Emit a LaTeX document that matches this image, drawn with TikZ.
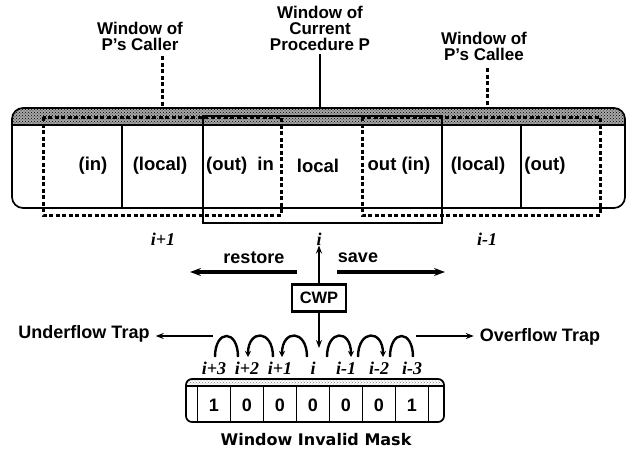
\documentclass[tikz,border=0pt]{standalone}
\usepackage{fontspec}
\setmainfont{Liberation Sans}
\newfontfamily\idxfont{Liberation Serif}
\newfontfamily\heavyfont{DejaVu Sans}
\usetikzlibrary{patterns,arrows.meta}
\begin{document}
\begin{tikzpicture}[x=1pt,y=-1pt,
  lbl/.style={font=\fontsize{17}{16}\selectfont\bfseries, align=center, inner sep=0pt},
  txt/.style={font=\fontsize{18}{18}\selectfont\bfseries, inner sep=0pt},
  cell/.style={font=\fontsize{18.5}{18.5}\selectfont\bfseries, inner sep=0pt},
  idx/.style={font=\fontsize{18}{18}\selectfont\idxfont\bfseries\itshape, inner sep=0pt},
  win/.style={line width=3pt, dash pattern=on 4pt off 2.5pt},
  cur/.style={line width=2.8pt},
  bigarrow/.style={line width=3.2pt, -{Stealth[length=11pt,width=8pt]}},
  thinarrow/.style={line width=1.6pt, -{Stealth[length=8pt,width=6pt]}},
  arcline/.style={line width=2.4pt},
  arcarrow/.style={line width=2.4pt, -{Stealth[length=6pt,width=6pt]}},
  outline/.style={line width=1.7pt}
]
\useasboundingbox (0,0) rectangle (633,453);

% ---- titles ----
\node[lbl] (caller) at (140,36) {Window of\\P's Caller};
\node[lbl] (current) at (320,28) {Window of\\Current\\Procedure P};
\node[lbl] (callee) at (484,46) {Window of\\P's Callee};
\coordinate (cb) at (162,108);
\coordinate (pb) at (320,108);
\coordinate (eb) at (487,108);
\draw[win, shorten <=6pt] (caller.south -| cb) -- (cb);
\draw[cur, line width=2.2pt, shorten <=4pt] (current.south -| pb) -- (pb);
\draw[win, shorten <=8pt] (callee.south -| eb) -- (eb);

% ---- register file bar ----
\begin{scope}
  \clip[rounded corners=11pt] (12,108) rectangle (625,208);
  \fill[black!35] (12,108) rectangle (625,125);
  \fill[pattern=crosshatch dots, pattern color=black] (12,108) rectangle (625,125);
\end{scope}
\draw[outline, rounded corners=11pt] (12,108) rectangle (625,208);
\draw[line width=1.4pt] (12,125) -- (625,125);
\draw[line width=1.4pt] (122,125) -- (122,208);
\draw[line width=1.4pt] (521,125) -- (521,208);

% windows
\draw[win] (43,117) rectangle (281,215);
\draw[win] (362,117) rectangle (600,215);
\draw[cur] (203,116) rectangle (442,223);

% cell texts
\node[cell] (c1) at (93,166) {(in)};
\node[cell] (c2) at (160,166) {(local)};
\node[cell] (c3) at (240,166) {(out)\ \ in};
\node[cell] (c4) at (318,166) {local};
\node[cell] (c5) at (399,166) {out (in)};
\node[cell] (c6) at (478,166) {(local)};
\node[cell] (c7) at (545,166) {(out)};

% ---- window indices ----
\node[idx] (ip1) at (163,239) {i+1};
\node[idx] (i0) at (319,239) {i};
\node[idx] (im1) at (487,239) {i-1};

% ---- CWP and save/restore ----
\node[draw, line width=2.2pt, minimum width=54pt, minimum height=27pt, inner sep=0pt,
      font=\fontsize{16.5}{16.5}\selectfont\bfseries] (cwp) at (319,298) {CWP};
\node[txt] (restore) at (254,258) {restore};
\node[txt] (save) at (358,258) {save};
\coordinate (rr) at (297,272);
\coordinate (rl) at (190,272);
\coordinate (sl) at (337,272);
\coordinate (sr) at (445,272);
\draw[bigarrow] (rr) -- (rl);
\draw[bigarrow] (sl) -- (sr);
\draw[thinarrow] (cwp.north) -- (i0.south);
\coordinate (dn) at (319,348);
\draw[thinarrow] (cwp.south) -- (dn);

% ---- traps ----
\node[txt] (under) at (84,334) {Underflow Trap};
\node[txt] (over) at (540,337) {Overflow Trap};
\coordinate (u1) at (213,336);
\coordinate (o1) at (416,336);
\draw[thinarrow, shorten >=6pt] (u1) -- (u1 -| under.east);
\draw[thinarrow, shorten >=6pt] (o1) -- (o1 -| over.west);

% ---- arcs ----
\coordinate (a1r) at (238,357); \coordinate (a1l) at (215,357);
\coordinate (a2r) at (273,357); \coordinate (a2l) at (248,357);
\coordinate (a3r) at (307,357); \coordinate (a3l) at (282,357);
\coordinate (a4l) at (327,357); \coordinate (a4r) at (351,357);
\coordinate (a5l) at (358,357); \coordinate (a5r) at (383,357);
\coordinate (a6l) at (390,357); \coordinate (a6r) at (413,357);
\draw[arcline] (a1r) .. controls +(0,-28) and +(0,-28) .. (a1l);
\draw[arcarrow] (a2r) .. controls +(0,-28) and +(0,-28) .. (a2l);
\draw[arcarrow] (a3r) .. controls +(0,-28) and +(0,-28) .. (a3l);
\draw[arcarrow] (a4l) .. controls +(0,-28) and +(0,-28) .. (a4r);
\draw[arcarrow] (a5l) .. controls +(0,-28) and +(0,-28) .. (a5r);
\draw[arcline] (a6l) .. controls +(0,-28) and +(0,-28) .. (a6r);

% ---- mask labels ----
\foreach \k/\t in {0/i+3,1/i+2,2/i+1,3/i,4/i-1,5/i-2,6/i-3}
  \node[idx] (ml\k) at (214+33*\k,368) {\t};

% ---- mask ----
\begin{scope}
  \clip[rounded corners=6pt] (186,379) rectangle (444,422);
  \fill[pattern=crosshatch dots, pattern color=black!55] (186,379) rectangle (444,386);
\end{scope}
\draw[outline, rounded corners=6pt] (186,379) rectangle (444,422);
\draw[line width=1.3pt] (186,386) -- (444,386);
\foreach \k in {0,...,7}
  \draw[outline] (197.5+33*\k,386) -- (197.5+33*\k,422);
\foreach \k/\v in {0/1,1/0,2/0,3/0,4/0,5/0,6/1}
  \node[font=\fontsize{18}{18}\selectfont\bfseries, inner sep=0pt] (mv\k) at (214+33*\k,405) {\v};

\node[font=\fontsize{16}{16}\selectfont\heavyfont\bfseries, inner sep=0pt] (wim) at (316,440) {Window\ Invalid\ Mask};
\end{tikzpicture}
\end{document}
